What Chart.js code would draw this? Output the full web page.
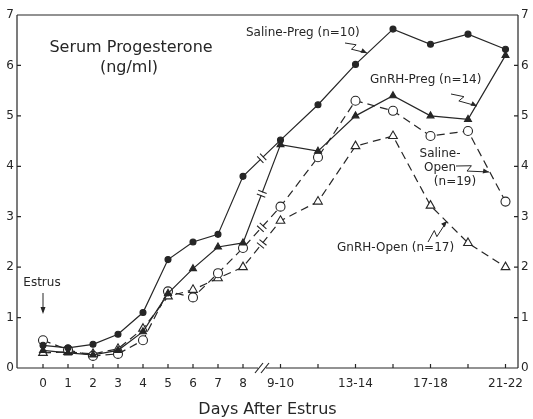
<!DOCTYPE html>
<html lang="en">
<head>
<meta charset="UTF-8" />
<title>Serum Progesterone</title>
<script src="https://cdn.jsdelivr.net/npm/chart.js"></script>
<style>
  html, body { margin: 0; padding: 0; background: #fff; }
  #wrap { width: 533px; height: 419px; }
</style>
</head>
<body>
<div id="wrap"><canvas id="chart" width="533" height="419"></canvas></div>
<script>
// sampling days (after day 8 the samples are pooled in 2-day groups)
const dayLabels = ['0','1','2','3','4','5','6','7','8','9-10','11-12','13-14','15-16','17-18','19-20','21-22'];
const yTicks = [0, 1, 2, 3, 4, 5, 6, 7];

// serum progesterone, ng/ml
const salinePreg = [0.45, 0.40, 0.47, 0.67, 1.10, 2.15, 2.50, 2.65, 3.80, 4.52, 5.22, 6.02, 6.72, 6.42, 6.62, 6.32];
const gnrhPreg   = [0.35, 0.30, 0.26, 0.35, 0.72, 1.48, 1.97, 2.40, 2.48, 4.43, 4.30, 5.00, 5.40, 5.00, 4.93, 6.20];
const salineOpen = [0.55, 0.36, 0.24, 0.28, 0.55, 1.52, 1.40, 1.88, 2.38, 3.20, 4.18, 5.30, 5.10, 4.60, 4.70, 3.30];
const gnrhOpen   = [0.30, 0.32, 0.28, 0.38, 0.78, 1.42, 1.55, 1.78, 2.00, 2.92, 3.30, 4.40, 4.60, 3.22, 2.48, 2.00];

const INK = '#262626';
const FONT = '"DejaVu Sans", "Liberation Sans", sans-serif';

// days 0-8 at one unit each, then the pooled groups are compressed
function xAt(i) { return i <= 8 ? i : 8 + 1.5 * (i - 8); }
const BREAK_X = 8.76;

function series(label, values, opts) {
  return Object.assign({
    label: label,
    data: values.map((v, i) => ({ x: xAt(i), y: v })),
    borderColor: INK,
    borderWidth: 1.2,
    pointBorderColor: INK,
    pointBorderWidth: 1.1,
    tension: 0
  }, opts);
}

const datasets = [
  series('Saline-Preg (n=10)', salinePreg, { pointStyle: 'circle', pointRadius: 3, pointBackgroundColor: INK }),
  series('GnRH-Preg (n=14)', gnrhPreg, { pointStyle: 'triangle', pointRadius: 4, pointBackgroundColor: INK }),
  series('Saline-Open (n=19)', salineOpen, { pointStyle: 'circle', pointRadius: 4.5, pointBackgroundColor: '#fff', borderDash: [8, 5] }),
  series('GnRH-Open (n=17)', gnrhOpen, { pointStyle: 'triangle', pointRadius: 5, pointBackgroundColor: '#fff', borderDash: [8, 5] })
];

function squiggle(ctx, x0, y0, x1, y1) {
  const dx = x1 - x0, dy = y1 - y0, L = Math.hypot(dx, dy);
  const ux = dx / L, uy = dy / L, vx = -uy, vy = ux;
  const p = (u, v) => [x0 + ux * u + vx * v, y0 + uy * u + vy * v];
  const pts = [p(0, 0), p(L * 0.45, -3), p(L * 0.35, 3), p(L, 0)];
  ctx.beginPath();
  ctx.moveTo(pts[0][0], pts[0][1]);
  for (let k = 1; k < pts.length; k++) ctx.lineTo(pts[k][0], pts[k][1]);
  ctx.stroke();
  // arrow head
  const a = p(L - 6, 2.5), b = p(L - 6, -2.5);
  ctx.beginPath();
  ctx.moveTo(x1, y1); ctx.lineTo(a[0], a[1]); ctx.lineTo(b[0], b[1]); ctx.closePath();
  ctx.fill();
}

const framePlugin = {
  id: 'frame',
  beforeDatasetsDraw(chart) {
    const { ctx, chartArea: ca, scales } = chart;
    const xs = scales.x, ys = scales.y;
    const bx = xs.getPixelForValue(BREAK_X);
    ctx.save();
    ctx.strokeStyle = INK;
    ctx.lineWidth = 1.2;
    ctx.beginPath();
    ctx.moveTo(ca.left, ca.top); ctx.lineTo(ca.right, ca.top);
    ctx.moveTo(ca.left, ca.top); ctx.lineTo(ca.left, ca.bottom);
    ctx.moveTo(ca.right, ca.top); ctx.lineTo(ca.right, ca.bottom);
    ctx.moveTo(ca.left, ca.bottom); ctx.lineTo(bx - 4, ca.bottom);
    ctx.moveTo(bx + 4, ca.bottom); ctx.lineTo(ca.right, ca.bottom);
    // inward ticks
    yTicks.forEach(v => {
      const y = ys.getPixelForValue(v);
      ctx.moveTo(ca.left, y); ctx.lineTo(ca.left + 4, y);
      ctx.moveTo(ca.right, y); ctx.lineTo(ca.right - 4, y);
    });
    dayLabels.forEach((_, i) => {
      const x = xs.getPixelForValue(xAt(i));
      ctx.moveTo(x, ca.bottom); ctx.lineTo(x, ca.bottom - 4);
    });
    // axis break
    [-3, 3].forEach(o => {
      ctx.moveTo(bx + o - 4, ca.bottom + 5); ctx.lineTo(bx + o + 4, ca.bottom - 5);
    });
    ctx.stroke();
    ctx.restore();
  },
  afterDatasetsDraw(chart) {
    const { ctx } = chart;
    ctx.save();
    // break marks on the segment that spans the axis break
    chart.data.datasets.forEach((ds, di) => {
      const pts = chart.getDatasetMeta(di).data;
      const a = pts[8], b = pts[9];
      const dx = b.x - a.x, dy = b.y - a.y, L = Math.hypot(dx, dy);
      const ux = dx / L, uy = dy / L;
      const mx = a.x + dx * 0.5, my = a.y + dy * 0.5;
      ctx.strokeStyle = '#fff';
      ctx.lineWidth = 4;
      ctx.beginPath();
      ctx.moveTo(mx - ux * 1.5, my - uy * 1.5); ctx.lineTo(mx + ux * 1.5, my + uy * 1.5);
      ctx.stroke();
      ctx.strokeStyle = INK;
      ctx.lineWidth = 1.1;
      ctx.beginPath();
      [-2, 2].forEach(o => {
        const cx = mx + ux * o, cy = my + uy * o;
        ctx.moveTo(cx - uy * 4.5, cy + ux * 4.5); ctx.lineTo(cx + uy * 4.5, cy - ux * 4.5);
      });
      ctx.stroke();
    });
    ctx.restore();
  },
  afterDraw(chart) {
    const { ctx } = chart;
    ctx.save();
    ctx.fillStyle = INK;
    ctx.strokeStyle = INK;
    ctx.lineWidth = 1;
    ctx.textBaseline = 'middle';
    ctx.textAlign = 'center';
    ctx.font = '16px ' + FONT;
    ctx.fillText('Serum Progesterone', 131, 48);
    ctx.fillText('(ng/ml)', 129, 68);

    ctx.font = '12px ' + FONT;
    ctx.textAlign = 'left';
    ctx.fillText('Saline-Preg (n=10)', 246, 33);
    ctx.fillText('GnRH-Preg (n=14)', 370, 80);
    ctx.fillText('GnRH-Open (n=17)', 337, 248);
    ctx.textAlign = 'center';
    ctx.fillText('Saline-', 440, 154);
    ctx.fillText('Open', 440, 168);
    ctx.fillText('(n=19)', 455, 182);
    ctx.fillText('Estrus', 42, 283);

    squiggle(ctx, 345, 43, 367, 53);
    squiggle(ctx, 451, 94, 477, 106);
    squiggle(ctx, 456, 166, 489, 172);
    squiggle(ctx, 428, 242, 447, 221);

    // estrus arrow
    ctx.beginPath();
    ctx.moveTo(43, 293); ctx.lineTo(43, 312);
    ctx.stroke();
    ctx.beginPath();
    ctx.moveTo(43, 314); ctx.lineTo(40.5, 307); ctx.lineTo(45.5, 307); ctx.closePath();
    ctx.fill();
    ctx.restore();
  }
};

const yScale = (pos, w) => ({
  type: 'linear',
  position: pos,
  min: 0,
  max: 7,
  afterBuildTicks: s => { s.ticks = yTicks.map(v => ({ value: v })); },
  afterFit: s => { s.width = w; },
  grid: { display: false, drawTicks: false },
  border: { display: false },
  ticks: { color: INK, padding: 3, font: { family: FONT, size: 12 } }
});

new Chart(document.getElementById('chart'), {
  type: 'line',
  data: { datasets: datasets },
  plugins: [framePlugin],
  options: {
    responsive: false,
    animation: false,
    layout: { padding: { top: 15, left: 0, right: 0, bottom: 0 } },
    plugins: { legend: { display: false }, tooltip: { enabled: false } },
    scales: {
      x: {
        type: 'linear',
        min: -1.04,
        max: 19,
        afterBuildTicks: s => { s.ticks = dayLabels.map((_, i) => ({ value: xAt(i) })); },
        afterFit: s => { s.height = 51; },
        grid: { display: false, drawTicks: false },
        border: { display: false },
        ticks: {
          color: INK,
          autoSkip: false,
          maxRotation: 0,
          padding: 9,
          font: { family: FONT, size: 12 },
          callback: (v, i) => (i <= 8 || (i - 9) % 2 === 0) ? dayLabels[i] : ''
        },
        title: {
          display: true,
          text: 'Days After Estrus',
          color: INK,
          font: { family: FONT, size: 16 },
          padding: { top: 8, bottom: 0 }
        }
      },
      y: yScale('left', 17),
      y2: yScale('right', 15)
    }
  }
});
</script>
</body>
</html>
